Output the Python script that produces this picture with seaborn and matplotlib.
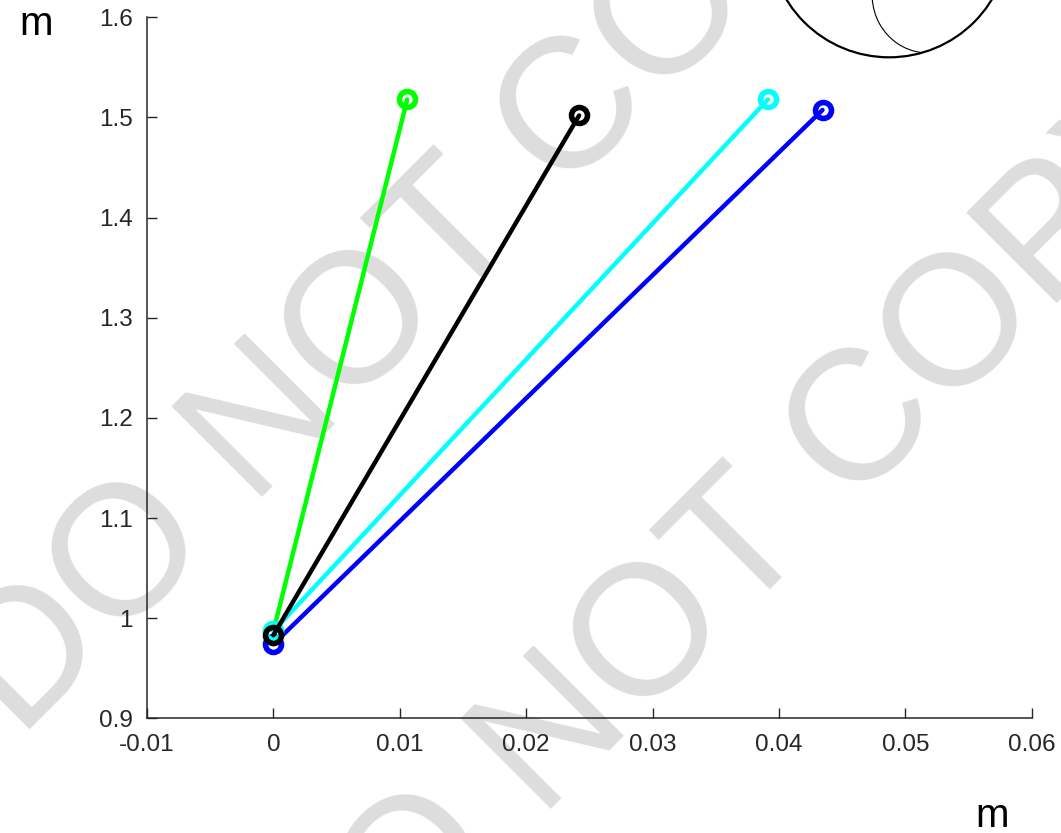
import matplotlib
matplotlib.use("Agg")
import matplotlib.pyplot as plt
from matplotlib.patches import Ellipse, Arc
import pandas as pd
import seaborn as sns

# start / end points of each segment (metres)
green_x = [0.0, 0.01059]
green_y = [0.987, 1.518]
black_x = [0.0, 0.02419]
black_y = [0.983, 1.502]
cyan_x = [0.0, 0.03913]
cyan_y = [0.987, 1.518]
blue_x = [0.0, 0.04345]
blue_y = [0.974, 1.5075]

xticks = [-0.01, 0, 0.01, 0.02, 0.03, 0.04, 0.05, 0.06]
xticklabels = ["-0.01", "0", "0.01", "0.02", "0.03", "0.04", "0.05", "0.06"]
yticks = [0.9, 1.0, 1.1, 1.2, 1.3, 1.4, 1.5, 1.6]
yticklabels = ["0.9", "1", "1.1", "1.2", "1.3", "1.4", "1.5", "1.6"]

sns.set_style("ticks")
plt.rcParams["font.family"] = ["Liberation Sans", "DejaVu Sans"]

W, H = 1061, 833
fig = plt.figure(figsize=(W / 100, H / 100), dpi=100)
ax = fig.add_axes([147 / W, 1 - 718.3 / H, (1031.7 - 147) / W, (718.3 - 17.3) / H])

# watermark behind everything
wm = dict(fontsize=133, color="#dddddd", rotation=45, rotation_mode="anchor",
          ha="left", va="baseline", transform=fig.transFigure, zorder=0.5, clip_on=False)
ax.text(20 / W, 1 - 740 / H, "DO NOT COPY", **wm)
ax.text(309 / W, 1 - 1052 / H, "DO NOT COPY", **wm)

series = [
    ("blue", blue_x, blue_y, "#0000ff"),
    ("green", green_x, green_y, "#00ff00"),
    ("cyan", cyan_x, cyan_y, "#00ffff"),
    ("black", black_x, black_y, "#000000"),
]
for name, xs, ys, col in series:
    df = pd.DataFrame({"x": xs, "y": ys})
    sns.lineplot(data=df, x="x", y="y", ax=ax, sort=False, estimator=None,
                 color=col, linewidth=3.2, marker="o", markersize=11.5,
                 markerfacecolor="none", markeredgecolor=col, markeredgewidth=4)

# head outline sticking out of the top
ax.add_patch(Ellipse((0.04872, 1.6801), 0.01902, 0.2401, fill=False,
                     edgecolor="black", linewidth=1.6, clip_on=False))
ax.add_patch(Arc((0.0518, 1.6223), 0.00885, 0.1158, theta1=100, theta2=269.5,
                 edgecolor="black", linewidth=0.8, clip_on=False))

ax.set_xlim(-0.01, 0.06)
ax.set_ylim(0.9, 1.6)
ax.set_xticks(xticks)
ax.set_xticklabels(xticklabels)
ax.set_yticks(yticks)
ax.set_yticklabels(yticklabels)
ax.set_xlabel("")
ax.set_ylabel("")
sns.despine(ax=ax)
for s in ["left", "bottom"]:
    ax.spines[s].set_color("#262626")
    ax.spines[s].set_linewidth(1.1)
ax.tick_params(axis="both", direction="in", length=7, width=1.0, color="#262626",
               labelcolor="#262626", labelsize=17.5)
ax.tick_params(axis="x", pad=11)
ax.tick_params(axis="y", pad=10)

fig.text(36.5 / W, 1 - 35 / H, "m", fontsize=29, ha="center", va="baseline", color="black")
fig.text(992 / W, 1 - 827 / H, "m", fontsize=29, ha="center", va="baseline", color="black")

fig.savefig("out.png", dpi=100)
